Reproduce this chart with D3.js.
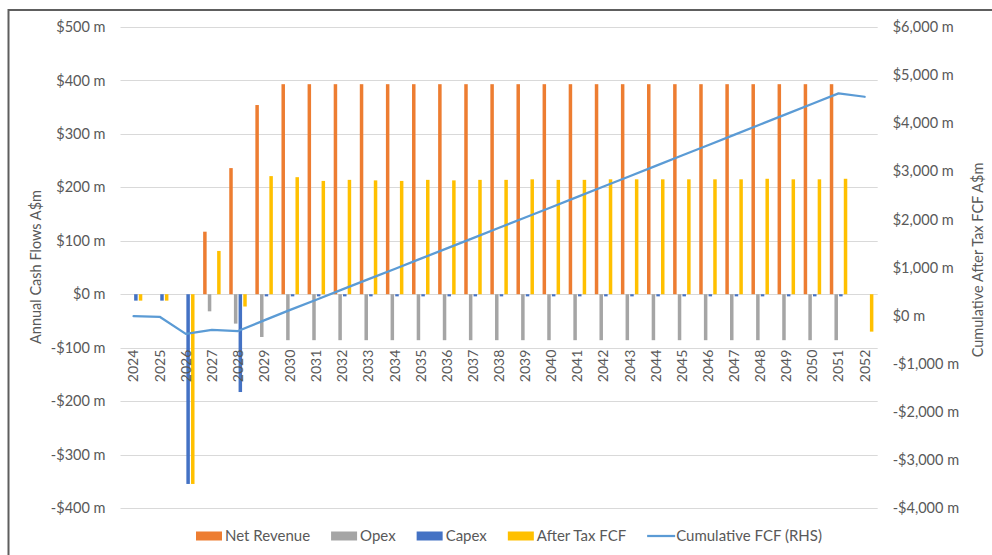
<!DOCTYPE html>
<html>
<head>
<meta charset="utf-8">
<script src="https://cdn.jsdelivr.net/npm/d3@7"></script>
<style>
  body { margin: 0; background: #fff; }
  svg { display: block; font-family: Lato, "Open Sans", sans-serif; }
</style>
</head>
<body>
<svg id="chart" width="992" height="555"></svg>
<script>
// Project years
const years = ["2024","2025","2026","2027","2028","2029","2030","2031","2032","2033",
  "2034","2035","2036","2037","2038","2039","2040","2041","2042","2043","2044","2045",
  "2046","2047","2048","2049","2050","2051","2052"];

// Annual cash flows, A$ millions
const netRevenue = [0, 0, 0, 117, 236, 354, 393, 393, 393, 393, 393, 393, 393, 393, 393, 393,
  393, 393, 393, 393, 393, 393, 393, 393, 393, 393, 393, 393, 0];
const opex = [0, 0, 0, -32, -55, -80, -86, -86, -86, -86, -86, -86, -86, -86, -86, -86,
  -86, -86, -86, -86, -86, -86, -86, -86, -86, -86, -86, -86, 0];
const capex = [-12, -12, -355, 0, -183, -4, -4, -4, -4, -4, -4, -4, -4, -4, -4, -4,
  -4, -4, -4, -4, -4, -4, -4, -4, -4, -4, -4, -4, 0];
const afterTaxFCF = [-12, -12, -355, 81, -23, 221, 219, 212, 214, 213, 212, 214, 213, 214, 214, 215,
  214, 214, 215, 215, 215, 215, 215, 215, 216, 215, 215, 216, -70];

// Running total of after-tax free cash flow, A$ millions (right-hand axis)
const cumulativeFCF = [-12, -24, -379, -298, -321, -100, 119, 331, 545, 758, 970, 1184, 1397, 1611,
  1825, 2040, 2254, 2468, 2683, 2898, 3113, 3328, 3543, 3758, 3974, 4189, 4404, 4620, 4550];

// Axis ticks
const leftTicks = [500, 400, 300, 200, 100, 0, -100, -200, -300, -400];
const rightTicks = [6000, 5000, 4000, 3000, 2000, 1000, 0, -1000, -2000, -3000, -4000];

const barSeries = [
  { name: "Net Revenue", values: netRevenue, color: "#ED7D31" },
  { name: "Opex", values: opex, color: "#A5A5A5" },
  { name: "Capex", values: capex, color: "#4472C4" },
  { name: "After Tax FCF", values: afterTaxFCF, color: "#FFC000" }
];
const lineColor = "#5B9BD5";
const textColor = "#595959";

const W = 992, H = 555;
const plot = { left: 120.5, right: 877.7, top: 27, bottom: 508 };

const svg = d3.select("#chart");
svg.append("rect").attr("width", W).attr("height", H).attr("fill", "#fff");

// chart frame
svg.append("rect")
  .attr("x", 8.5).attr("y", 10).attr("width", 1200).attr("height", 800)
  .attr("fill", "none").attr("stroke", "#5e5e5e").attr("stroke-width", 2);

const x = d3.scaleBand().domain(years)
  .range([plot.left, plot.right]).paddingInner(0.33).paddingOuter(0.165);
const x1 = d3.scaleBand().domain(barSeries.map(s => s.name))
  .range([0, x.bandwidth()]).paddingInner(0.25);
const yL = d3.scaleLinear().domain([-400, 500]).range([plot.bottom, plot.top]);
const yR = d3.scaleLinear().domain([-4000, 6000]).range([plot.bottom, plot.top]);

const money = d3.format(",");
const fmt = v => (v < 0 ? "-$" : "$") + money(Math.abs(v)) + " m";

// horizontal gridlines
svg.append("g").selectAll("line").data(leftTicks).join("line")
  .attr("x1", plot.left).attr("x2", plot.right)
  .attr("y1", d => Math.round(yL(d)) + 0.5).attr("y2", d => Math.round(yL(d)) + 0.5)
  .attr("stroke", "#d9d9d9").attr("stroke-width", 1);

// clustered bars
const bars = svg.append("g");
barSeries.forEach(s => {
  bars.append("g").selectAll("rect").data(s.values).join("rect")
    .attr("x", (d, i) => x(years[i]) + x1(s.name))
    .attr("width", x1.bandwidth())
    .attr("y", d => Math.min(yL(d), yL(0)))
    .attr("height", d => Math.abs(yL(d) - yL(0)))
    .attr("fill", s.color);
});

// cumulative line on the secondary axis
const line = d3.line()
  .x((d, i) => x(years[i]) + x.bandwidth() / 2)
  .y(d => yR(d));
svg.append("path").datum(cumulativeFCF)
  .attr("d", line).attr("fill", "none")
  .attr("stroke", lineColor).attr("stroke-width", 2.25)
  .attr("stroke-linejoin", "round").attr("stroke-linecap", "round");

// left axis
const leftAxis = svg.append("g")
  .attr("transform", `translate(${plot.left},0)`)
  .call(d3.axisLeft(yL).tickValues(leftTicks).tickFormat(fmt).tickSize(0).tickPadding(15));
leftAxis.select(".domain").remove();
leftAxis.selectAll("text").attr("fill", textColor)
  .style("font-size", "14.5px").style("font-family", "Lato, 'Open Sans', sans-serif");

// right axis
const rightAxis = svg.append("g")
  .attr("transform", `translate(${plot.right},0)`)
  .call(d3.axisRight(yR).tickValues(rightTicks).tickFormat(fmt).tickSize(0).tickPadding(15));
rightAxis.select(".domain").remove();
rightAxis.selectAll("text").attr("fill", textColor)
  .style("font-size", "14.5px").style("font-family", "Lato, 'Open Sans', sans-serif");

// category labels, rotated, hanging below the axis line
svg.append("g").selectAll("text").data(years).join("text")
  .attr("transform", d => `translate(${x(d) + x.bandwidth() / 2},${yL(-100) + 2}) rotate(-90)`)
  .attr("text-anchor", "end").attr("dy", "0.35em")
  .attr("fill", textColor).style("font-size", "14px")
  .text(d => d);

// axis titles
svg.append("text")
  .attr("transform", `translate(36,267) rotate(-90)`)
  .attr("text-anchor", "middle").attr("dy", "0.35em")
  .attr("fill", textColor).style("font-size", "14.5px")
  .text("Annual Cash Flows A$m");
svg.append("text")
  .attr("transform", `translate(978,260) rotate(-90)`)
  .attr("text-anchor", "middle").attr("dy", "0.35em")
  .attr("fill", textColor).style("font-size", "14.5px")
  .text("Cumulative After Tax FCF A$m");

// legend
const legendItems = barSeries.map(s => ({ name: s.name, color: s.color, type: "bar" }))
  .concat([{ name: "Cumulative FCF (RHS)", color: lineColor, type: "line" }]);
const legend = svg.append("g");
const legendY = 536;
let lx = 196;
legendItems.forEach(item => {
  if (item.type === "bar") {
    legend.append("rect").attr("x", lx).attr("y", legendY - 4.5)
      .attr("width", 26).attr("height", 9).attr("fill", item.color);
  } else {
    legend.append("line").attr("x1", lx).attr("x2", lx + 28)
      .attr("y1", legendY).attr("y2", legendY)
      .attr("stroke", item.color).attr("stroke-width", 2.25);
  }
  const t = legend.append("text").attr("x", lx + 29).attr("y", legendY).attr("dy", "0.35em")
    .attr("fill", textColor).style("font-size", "15px").text(item.name);
  lx += 29 + t.node().getComputedTextLength() + 21;
});
</script>
</body>
</html>
